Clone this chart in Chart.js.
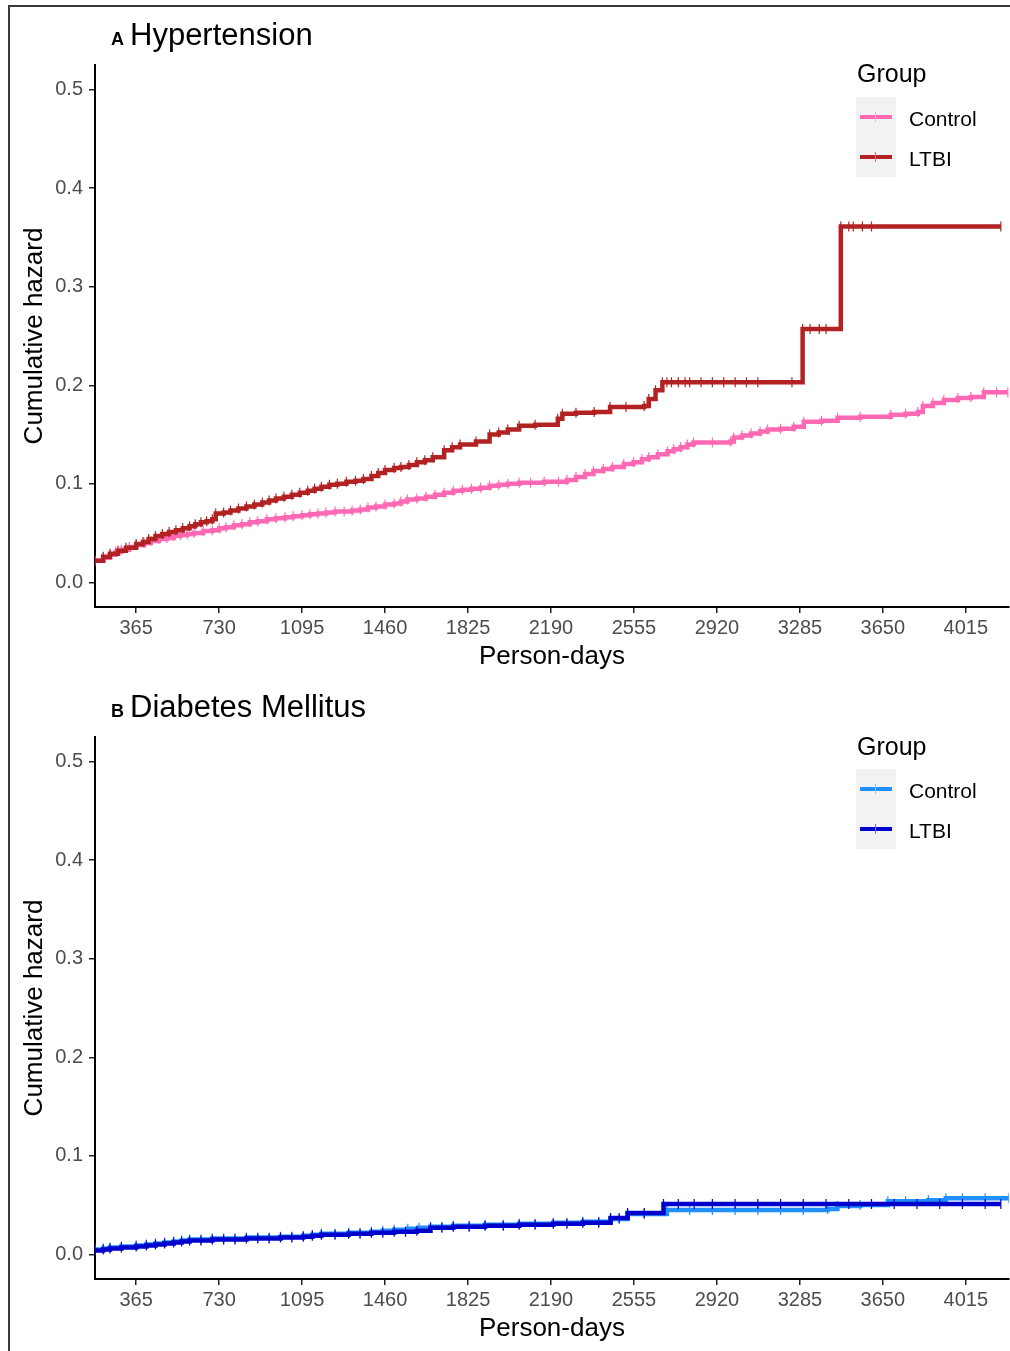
<!DOCTYPE html>
<html>
<head>
<meta charset="utf-8">
<script src="https://cdn.jsdelivr.net/npm/chart.js@4.4.1/dist/chart.umd.min.js"></script>
<style>
    body { margin: 0; background: #fff; width: 1010px; height: 1351px; overflow: hidden; position: relative; font-family: 'Liberation Sans', Arial, sans-serif; }
    #frame { position: absolute; left: 8px; top: 5px; width: 1100px; height: 1400px; border: 2px solid #3a3a3a; }
    .panel { position: absolute; left: 0; width: 1010px; overflow: hidden; }
    .panel canvas { position: absolute; left: 0; top: 0; }
    .title { position: absolute; left: 111px; white-space: nowrap; color: #000; line-height: 1; }
    .title b { font-size: 18px; margin-right: 6px; }
    .title span { font-size: 31px; }
    .legend-title { position: absolute; left: 857px; font-size: 25px; line-height: 1; color: #000; }
    .key { position: absolute; left: 856px; width: 40px; height: 40px; background: #f2f2f2; }
    .key .ln { position: absolute; left: 4px; top: 18px; width: 32px; height: 4px; }
    .key .tk { position: absolute; left: 19px; top: 15px; width: 1px; height: 10px; }
    .key-label { position: absolute; left: 909px; font-size: 21px; line-height: 1; color: #000; }
</style>
</head>
<body>
<div id="frame"></div>

<div class="panel" style="top:0; height:672px;">
    <canvas id="chartA" width="1015" height="672"></canvas>
    <div class="title" style="top:19px;"><b>A</b><span>Hypertension</span></div>
    <div class="legend-title" style="top:61px;">Group</div>
    <div class="key" style="top:97px;"><div class="ln" style="background:#ff69b4"></div><div class="tk" style="background:#ffb0d8"></div></div>
    <div class="key" style="top:137px;"><div class="ln" style="background:#b22222"></div><div class="tk" style="background:#e07070"></div></div>
    <div class="key-label" style="top:108px;">Control</div>
    <div class="key-label" style="top:148px;">LTBI</div>
</div>

<div class="panel" style="top:672px; height:679px;">
    <canvas id="chartB" width="1015" height="679"></canvas>
    <div class="title" style="top:19px;"><b>B</b><span>Diabetes Mellitus</span></div>
    <div class="legend-title" style="top:62px;">Group</div>
    <div class="key" style="top:97px;"><div class="ln" style="background:#1e90ff"></div><div class="tk" style="background:#8cc8ff"></div></div>
    <div class="key" style="top:137px;"><div class="ln" style="background:#0000cd"></div><div class="tk" style="background:#6a6aff"></div></div>
    <div class="key-label" style="top:108px;">Control</div>
    <div class="key-label" style="top:148px;">LTBI</div>
</div>

<script>
// axis ticks
const xTicks = [365, 730, 1095, 1460, 1825, 2190, 2555, 2920, 3285, 3650, 4015];
const yTicks = [0, 0.1, 0.2, 0.3, 0.4, 0.5];
const xMin = 184;
const xMax = 4204;

// A: Hypertension, cumulative hazard
const htnLtbiDays = [184, 220, 250, 285, 320, 365, 395, 420, 450, 480, 510, 540, 570, 600, 625, 650, 675, 700, 715, 750, 780, 815, 850, 885, 920, 950, 980, 1015, 1050, 1085, 1120, 1150, 1180, 1215, 1250, 1290, 1330, 1365, 1400, 1430, 1460, 1500, 1530, 1565, 1600, 1635, 1670, 1720, 1755, 1790, 1860, 1920, 1960, 2000, 2050, 2120, 2220, 2240, 2300, 2380, 2450, 2520, 2600, 2620, 2650, 2680, 2700, 2720, 2750, 2780, 2800, 2850, 2900, 2950, 3000, 3050, 3100, 3250, 3297, 3330, 3370, 3400, 3465, 3500, 3520, 3560, 3600, 4169];
const htnLtbiHazard = [0.022, 0.026, 0.029, 0.032, 0.035, 0.039, 0.041, 0.044, 0.047, 0.049, 0.051, 0.053, 0.055, 0.057, 0.059, 0.061, 0.062, 0.064, 0.070, 0.071, 0.073, 0.075, 0.077, 0.079, 0.081, 0.083, 0.085, 0.087, 0.089, 0.091, 0.093, 0.095, 0.097, 0.099, 0.100, 0.102, 0.103, 0.105, 0.108, 0.111, 0.114, 0.116, 0.117, 0.119, 0.122, 0.124, 0.127, 0.134, 0.137, 0.140, 0.143, 0.150, 0.152, 0.155, 0.159, 0.160, 0.166, 0.171, 0.172, 0.173, 0.178, 0.178, 0.179, 0.186, 0.195, 0.203, 0.203, 0.203, 0.203, 0.203, 0.203, 0.203, 0.203, 0.203, 0.203, 0.203, 0.203, 0.203, 0.257, 0.257, 0.257, 0.257, 0.361, 0.361, 0.361, 0.361, 0.361, 0.361];

const htnControlDays = [184, 220, 250, 275, 300, 335, 365, 400, 430, 465, 500, 530, 560, 590, 620, 660, 700, 730, 760, 795, 830, 865, 900, 940, 980, 1020, 1056, 1095, 1130, 1165, 1200, 1240, 1280, 1315, 1351, 1385, 1420, 1460, 1500, 1530, 1558, 1600, 1640, 1680, 1720, 1760, 1800, 1840, 1880, 1920, 1960, 2000, 2050, 2100, 2160, 2223, 2260, 2300, 2340, 2377, 2420, 2460, 2510, 2553, 2590, 2620, 2660, 2703, 2730, 2760, 2790, 2817, 2900, 2980, 2994, 3030, 3070, 3110, 3143, 3200, 3258, 3302, 3380, 3451, 3550, 3685, 3750, 3804, 3826, 3870, 3918, 3980, 4037, 4094, 4150, 4200];
const htnControlHazard = [0.022, 0.025, 0.028, 0.031, 0.033, 0.036, 0.038, 0.040, 0.042, 0.044, 0.045, 0.047, 0.048, 0.049, 0.050, 0.052, 0.053, 0.055, 0.056, 0.058, 0.059, 0.061, 0.062, 0.064, 0.065, 0.066, 0.067, 0.068, 0.069, 0.070, 0.071, 0.072, 0.072, 0.073, 0.074, 0.076, 0.077, 0.079, 0.080, 0.082, 0.084, 0.085, 0.087, 0.089, 0.091, 0.093, 0.094, 0.095, 0.096, 0.098, 0.099, 0.100, 0.101, 0.101, 0.102, 0.102, 0.104, 0.107, 0.110, 0.113, 0.115, 0.117, 0.120, 0.122, 0.125, 0.127, 0.130, 0.133, 0.135, 0.137, 0.140, 0.142, 0.142, 0.143, 0.147, 0.149, 0.151, 0.153, 0.155, 0.156, 0.158, 0.163, 0.164, 0.167, 0.168, 0.170, 0.171, 0.173, 0.179, 0.182, 0.185, 0.187, 0.188, 0.193, 0.193, 0.193];

// B: Diabetes Mellitus
const dmLtbiDays = [184, 220, 250, 300, 365, 410, 450, 490, 530, 565, 600, 650, 700, 750, 800, 850, 900, 950, 1000, 1050, 1100, 1140, 1180, 1240, 1300, 1350, 1400, 1450, 1500, 1550, 1600, 1660, 1710, 1760, 1830, 1900, 1980, 2050, 2120, 2200, 2260, 2330, 2400, 2452, 2490, 2527, 2600, 2685, 2750, 2820, 2900, 3000, 3100, 3200, 3300, 3400, 3500, 3600, 3700, 3800, 3900, 4000, 4100, 4169];
const dmLtbiHazard = [0.004, 0.005, 0.006, 0.007, 0.008, 0.009, 0.010, 0.011, 0.012, 0.013, 0.014, 0.014, 0.015, 0.015, 0.015, 0.016, 0.016, 0.016, 0.017, 0.017, 0.018, 0.019, 0.020, 0.020, 0.021, 0.021, 0.022, 0.022, 0.023, 0.023, 0.024, 0.027, 0.027, 0.028, 0.028, 0.029, 0.029, 0.030, 0.030, 0.031, 0.031, 0.032, 0.032, 0.037, 0.037, 0.042, 0.042, 0.051, 0.051, 0.051, 0.051, 0.051, 0.051, 0.051, 0.051, 0.051, 0.051, 0.051, 0.051, 0.051, 0.051, 0.051, 0.051, 0.051];

const dmControlDays = [184, 220, 250, 300, 365, 410, 450, 490, 530, 565, 600, 650, 700, 750, 800, 850, 900, 950, 1000, 1050, 1100, 1140, 1180, 1240, 1300, 1350, 1400, 1450, 1500, 1560, 1610, 1660, 1710, 1760, 1830, 1900, 1980, 2050, 2120, 2200, 2260, 2330, 2400, 2452, 2490, 2527, 2600, 2700, 2800, 2900, 3000, 3100, 3200, 3300, 3407, 3450, 3550, 3672, 3750, 3850, 3927, 4000, 4100, 4204];
const dmControlHazard = [0.005, 0.006, 0.007, 0.008, 0.009, 0.010, 0.011, 0.012, 0.013, 0.014, 0.015, 0.015, 0.016, 0.016, 0.016, 0.017, 0.017, 0.017, 0.018, 0.018, 0.019, 0.020, 0.021, 0.021, 0.022, 0.022, 0.023, 0.024, 0.025, 0.026, 0.027, 0.028, 0.028, 0.029, 0.029, 0.030, 0.030, 0.031, 0.031, 0.032, 0.032, 0.033, 0.033, 0.036, 0.036, 0.041, 0.041, 0.045, 0.045, 0.045, 0.045, 0.045, 0.045, 0.045, 0.046, 0.049, 0.050, 0.054, 0.054, 0.055, 0.057, 0.057, 0.057, 0.057];

const tickFont = {family: "'Liberation Sans', Arial, sans-serif", size: 20};
const titleFont = {family: "'Liberation Sans', Arial, sans-serif", size: 26};

function toPoints(days, hazard) {
    return days.map((d, i) => ({x: d, y: hazard[i]}));
}

function stepDataset(label, days, hazard, color) {
    return {
        label: label,
        data: toPoints(days, hazard),
        borderColor: color,
        backgroundColor: color,
        borderWidth: 4.5,
        stepped: 'before',   // horizontal first, then jump at the event time
        fill: false,
        pointStyle: 'line',
        rotation: 90,
        pointRadius: 5,
        pointBorderWidth: 1.2,
        pointBorderColor: color
    };
}

function buildPanel(canvasId, ltbi, control, bottomPad) {
    new Chart(document.getElementById(canvasId), {
        type: 'line',
        data: {
            // LTBI first so it is drawn on top
            datasets: [ltbi, control]
        },
        options: {
            responsive: false,
            animation: false,
            layout: {padding: {top: 65, right: 2, left: 0, bottom: bottomPad}},
            plugins: {legend: {display: false}, tooltip: {enabled: false}},
            scales: {
                x: {
                    type: 'linear',
                    min: xMin,
                    max: xMax,
                    afterBuildTicks: (scale) => { scale.ticks = xTicks.map(v => ({value: v})); },
                    afterFit: (scale) => { scale.height = 65; },
                    ticks: {color: '#4d4d4d', font: tickFont, padding: 3, maxRotation: 0, autoSkip: false,
                        callback: (v) => String(v)},
                    grid: {display: true, drawOnChartArea: false, drawTicks: true, tickLength: 6, color: '#222', lineWidth: 1.5},
                    border: {display: true, color: '#000', width: 2},
                    title: {display: true, text: 'Person-days', color: '#000', font: titleFont, padding: {top: 0, bottom: 0}}
                },
                y: {
                    type: 'linear',
                    min: -0.025,
                    max: 0.525,
                    afterBuildTicks: (scale) => { scale.ticks = yTicks.map(v => ({value: v})); },
                    afterFit: (scale) => { scale.width = 95; },
                    ticks: {color: '#4d4d4d', font: tickFont, padding: 6,
                        callback: (v) => Number(v).toFixed(1)},
                    grid: {display: true, drawOnChartArea: false, drawTicks: true, tickLength: 6, color: '#222', lineWidth: 1.5},
                    border: {display: true, color: '#000', width: 2},
                    title: {display: true, text: 'Cumulative hazard', color: '#000', font: titleFont, padding: {top: 19, bottom: 0}}
                }
            }
        }
    });
}

buildPanel('chartA',
    stepDataset('LTBI', htnLtbiDays, htnLtbiHazard, '#b22222'),
    stepDataset('Control', htnControlDays, htnControlHazard, '#ff69b4'),
    0);

buildPanel('chartB',
    stepDataset('LTBI', dmLtbiDays, dmLtbiHazard, '#0000cd'),
    stepDataset('Control', dmControlDays, dmControlHazard, '#1e90ff'),
    7);
</script>
</body>
</html>
